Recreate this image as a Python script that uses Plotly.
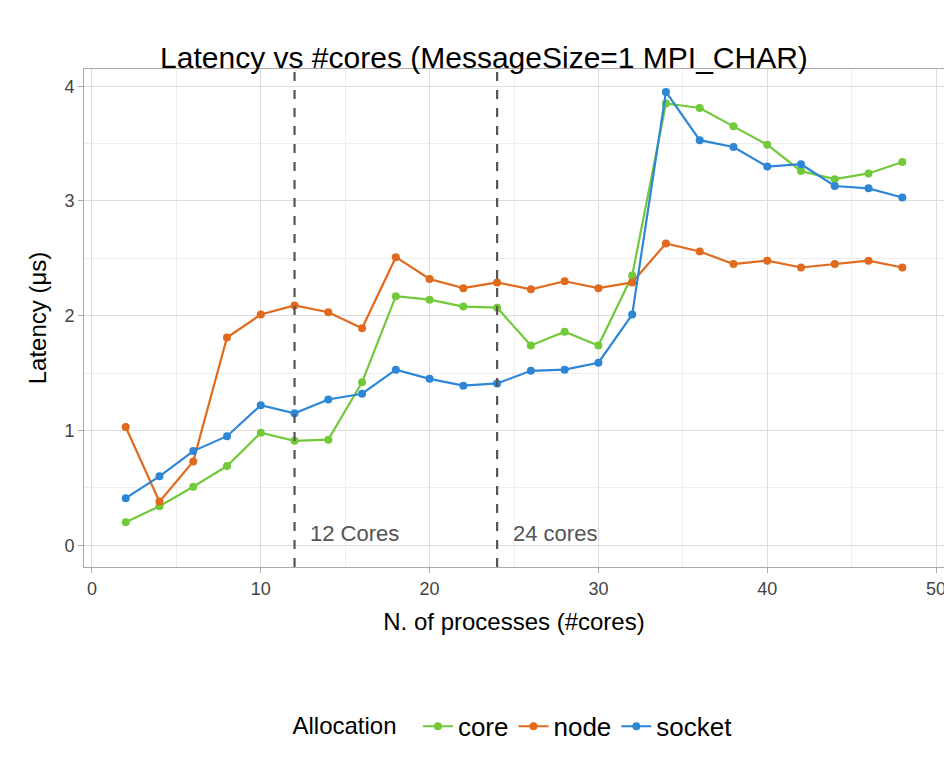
import plotly.graph_objects as go

x = list(range(2, 49, 2))
core = [0.20,0.34,0.51,0.69,0.98,0.91,0.92,1.42,2.17,2.14,2.08,2.07,1.74,1.86,1.74,2.35,3.85,3.81,3.65,3.49,3.26,3.19,3.24,3.34]
node = [1.03,0.38,0.73,1.81,2.01,2.09,2.03,1.89,2.51,2.32,2.24,2.29,2.23,2.30,2.24,2.29,2.63,2.56,2.45,2.48,2.42,2.45,2.48,2.42]
socket = [0.41,0.60,0.82,0.95,1.22,1.15,1.27,1.32,1.53,1.45,1.39,1.41,1.52,1.53,1.59,2.01,3.95,3.53,3.47,3.30,3.32,3.13,3.11,3.03]
names = ["core", "node", "socket"]
colors = ["#72C93A", "#E06A1E", "#2E86D6"]

fig = go.Figure()
for n, ys, c in zip(names, [core, node, socket], colors):
    fig.add_trace(go.Scatter(x=x, y=ys, name=n, mode="lines+markers",
                             line=dict(color=c, width=2.2), marker=dict(color=c, size=8)))

for v in [12, 24]:
    fig.add_vline(x=v, line=dict(color="#555555", width=2.2, dash="dash"))
fig.add_annotation(x=12.8, y=0.1, text="12 Cores", showarrow=False, xanchor="left",
                   font=dict(size=22, color="#555555"))
fig.add_annotation(x=24.8, y=0.1, text="24 cores", showarrow=False, xanchor="left",
                   font=dict(size=22, color="#555555"))

ax = dict(showline=True, linecolor="#AAAAAA", mirror=True, gridcolor="#DDDDDD",
          zeroline=False, ticks="outside", tickcolor="#AAAAAA", ticklen=5,
          tickfont=dict(size=18, color="#444444"),
          minor=dict(showgrid=True, gridcolor="#EEEEEE"))
fig.update_xaxes(**ax, range=[-0.47, 50.47], tickvals=[0,10,20,30,40,50],
                 minor_tickvals=[5,15,25,35,45], minor_ticks="",
                 title=dict(text="N. of processes (#cores)", font=dict(size=24, color="black")))
fig.update_yaxes(**ax, range=[-0.19, 4.15], tickvals=[0,1,2,3,4],
                 minor_tickvals=[0.5,1.5,2.5,3.5], minor_ticks="",
                 title=dict(text="Latency (μs)", font=dict(size=24, color="black"), standoff=10))
fig.update_layout(
    width=952, height=774, plot_bgcolor="white", paper_bgcolor="white",
    font=dict(family="Liberation Sans, Arial, sans-serif", color="black"),
    title=dict(text="Latency vs #cores (MessageSize=1 MPI_CHAR)", x=0.5, xanchor="center",
               y=0.95, font=dict(size=30, color="black")),
    margin=dict(l=76, r=16, t=61, b=215, autoexpand=False),
    legend=dict(orientation="h", x=0.5, xanchor="center", y=-0.32, yanchor="middle",
                title=dict(text="Allocation  ", font=dict(size=24, color="black")),
                font=dict(size=26, color="black")),
)
fig.write_html("out.html")
